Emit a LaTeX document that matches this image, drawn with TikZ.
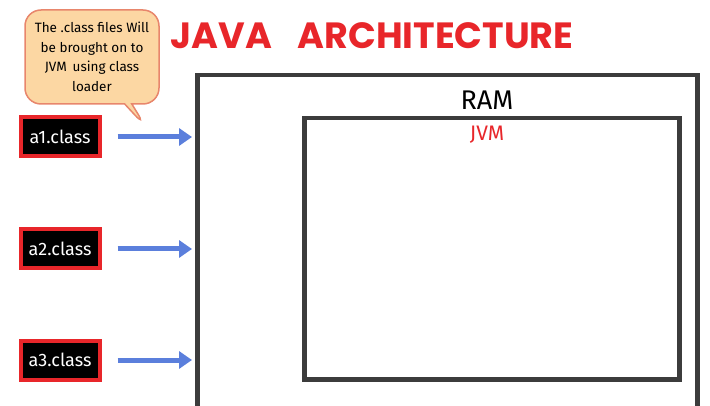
\documentclass[tikz,border=0pt]{standalone}
\usepackage{fontspec}
\setmainfont{Fira Sans}
\newfontfamily\titlefont{Poppins}
\usepackage{tikz}
\usetikzlibrary{arrows.meta, calc, shapes.callouts}

\definecolor{boxgray}{HTML}{3C3C3C}
\definecolor{titlered}{HTML}{E8262A}
\definecolor{flowblue}{HTML}{5B7FDC}
\definecolor{notefill}{HTML}{FCD7A3}
\definecolor{noteedge}{HTML}{E8866C}

\tikzset{
    memorybox/.style={draw=boxgray, line width=4.5pt, minimum width=#1, anchor=north west, inner sep=0pt},
    classbox/.style={draw=titlered, fill=black, line width=4pt, minimum width=79pt, minimum height=39pt, text=white, font=\fontsize{18}{18}\selectfont},
    flow/.style={flowblue, line width=5pt, -{Triangle[length=13pt, width=17pt]}, shorten <=16pt, shorten >=3pt},
}

\begin{document}
\begin{tikzpicture}[x=1pt, y=-1pt]
    \useasboundingbox[fill=white] (0,0) rectangle (710,406);
    \clip (0,0) rectangle (710,406);

    % Title
    \node[text=titlered, font=\titlefont\bfseries\fontsize{36.5}{36.5}\selectfont] (title) at (372,36) {JAVA\hspace{0.7em}ARCHITECTURE};

    % Memory boxes
    \node[memorybox=500pt, minimum height=360pt] (ram) at (195,73) {};
    \node[memorybox=375pt, minimum height=261pt] (jvm) at (302,116) {};
    \node[font=\fontsize{27}{27}\selectfont] (ramlabel) at (487,100) {RAM};
    \node[text=titlered, font=\fontsize{21}{21}\selectfont] (jvmlabel) at (487,135) {JVM};

    % Class files
    \node[classbox] (a1) at (60,137) {a1.class};
    \node[classbox] (a2) at (60,249) {a2.class};
    \node[classbox] (a3) at (60,360) {a3.class};

    % Loading arrows
    \draw[flow] (a1) -- (a1 -| ram.west);
    \draw[flow] (a2) -- (a2 -| ram.west);
    \draw[flow] (a3) -- (a3 -| ram.west);

    % Note
    \node[rectangle callout, rounded corners=16pt, fill=notefill, draw=noteedge, line width=1.5pt,
          minimum width=134pt, minimum height=94pt, align=center, inner sep=2pt,
          callout absolute pointer={(146,127)}, font=\fontsize{13.5}{19.5}\selectfont] (note) at (92,57)
          {The .class files Will\\be brought on to\\JVM\, using class\\loader};
\end{tikzpicture}
\end{document}
